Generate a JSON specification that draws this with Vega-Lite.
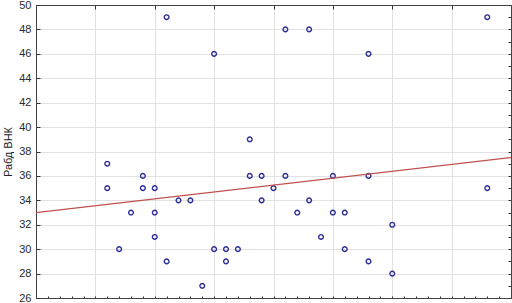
{
  "$schema": "https://vega.github.io/schema/vega-lite/v6.json",
  "width": 475,
  "height": 293,
  "autosize": "none",
  "padding": {"left": 36, "top": 5, "right": 1, "bottom": 5},
  "background": "white",
  "config": {
    "view": {"stroke": "#555555", "strokeWidth": 1},
    "font": "Liberation Sans"
  },
  "datasets": {
    "pts": [
      {"x": 1.2, "y": 37}, {"x": 1.2, "y": 35}, {"x": 1.4, "y": 30}, {"x": 1.6, "y": 33},
      {"x": 1.8, "y": 36}, {"x": 1.8, "y": 35}, {"x": 2.0, "y": 35}, {"x": 2.0, "y": 33},
      {"x": 2.0, "y": 31}, {"x": 2.2, "y": 49}, {"x": 2.2, "y": 29}, {"x": 2.4, "y": 34},
      {"x": 2.6, "y": 34}, {"x": 2.8, "y": 27}, {"x": 3.0, "y": 46}, {"x": 3.0, "y": 30},
      {"x": 3.2, "y": 30}, {"x": 3.2, "y": 29}, {"x": 3.4, "y": 30}, {"x": 3.6, "y": 39},
      {"x": 3.6, "y": 36}, {"x": 3.8, "y": 36}, {"x": 3.8, "y": 34}, {"x": 4.0, "y": 35},
      {"x": 4.2, "y": 48}, {"x": 4.2, "y": 36}, {"x": 4.4, "y": 33}, {"x": 4.6, "y": 48},
      {"x": 4.6, "y": 34}, {"x": 4.8, "y": 31}, {"x": 5.0, "y": 36}, {"x": 5.0, "y": 33},
      {"x": 5.2, "y": 33}, {"x": 5.2, "y": 30}, {"x": 5.6, "y": 46}, {"x": 5.6, "y": 36},
      {"x": 5.6, "y": 29}, {"x": 6.0, "y": 32}, {"x": 6.0, "y": 28}, {"x": 7.6, "y": 49},
      {"x": 7.6, "y": 35}
    ],
    "fit": [
      {"x": 0, "y": 33.0}, {"x": 8, "y": 37.5}
    ]
  },
  "layer": [
    {
      "data": {"name": "pts"},
      "mark": {"type": "point", "shape": "circle", "filled": false, "stroke": "#2e2e94", "strokeWidth": 1.4, "size": 22, "opacity": 1},
      "encoding": {
        "x": {
          "field": "x", "type": "quantitative",
          "scale": {"domain": [0, 8], "nice": false, "zero": false},
          "axis": {
            "orient": "bottom", "values": [0, 0.2, 0.4, 0.6, 0.8, 1, 1.2, 1.4, 1.6, 1.8, 2, 2.2, 2.4, 2.6, 2.8, 3, 3.2, 3.4, 3.6, 3.8, 4, 4.2, 4.4, 4.6, 4.8, 5, 5.2, 5.4, 5.6, 5.8, 6, 6.2, 6.4, 6.6, 6.8, 7, 7.2, 7.4, 7.6, 7.8, 8],
            "labels": false, "title": null,
            "grid": false,
            "ticks": true, "tickSize": -2, "tickColor": "#333333",
            "domain": true, "domainColor": "#444444"
          }
        },
        "y": {
          "field": "y", "type": "quantitative",
          "scale": {"domain": [26, 50], "nice": false, "zero": false},
          "axis": {
            "orient": "left", "values": [26, 28, 30, 32, 34, 36, 38, 40, 42, 44, 46, 48, 50],
            "title": "Рабд ВНК", "titleFont": "Liberation Sans", "titleFontSize": 11, "titleFontWeight": "normal",
            "titleColor": "#222222", "titlePadding": 5,
            "labelFont": "Liberation Sans", "labelFontSize": 11, "labelColor": "#2a2a2a", "labelPadding": 9,
            "grid": true, "gridColor": "#e2e2e2", "gridWidth": 1,
            "ticks": true, "tickSize": -4, "tickColor": "#333333",
            "domain": true, "domainColor": "#444444"
          }
        }
      }
    },
    {
      "data": {"name": "fit"},
      "mark": {"type": "line", "color": "#c0504d", "strokeWidth": 1.3, "clip": true},
      "encoding": {
        "x": {
          "field": "x", "type": "quantitative",
          "axis": {
            "orient": "top", "values": [0, 1, 2, 3, 4, 5, 6, 7, 8],
            "labels": false, "title": null,
            "grid": true, "gridColor": "#e2e2e2", "gridWidth": 1,
            "ticks": true, "tickSize": -4, "tickColor": "#333333",
            "domain": true, "domainColor": "#444444"
          }
        },
        "y": {
          "field": "y", "type": "quantitative",
          "axis": {
            "orient": "right", "values": [26, 27, 28, 29, 30, 31, 32, 33, 34, 35, 36, 37, 38, 39, 40, 41, 42, 43, 44, 45, 46, 47, 48, 49, 50],
            "labels": false, "title": null, "grid": false,
            "ticks": true, "tickSize": -3, "tickColor": "#333333",
            "domain": true, "domainColor": "#444444"
          }
        }
      }
    }
  ],
  "resolve": {"axis": {"x": "independent", "y": "independent"}}
}
